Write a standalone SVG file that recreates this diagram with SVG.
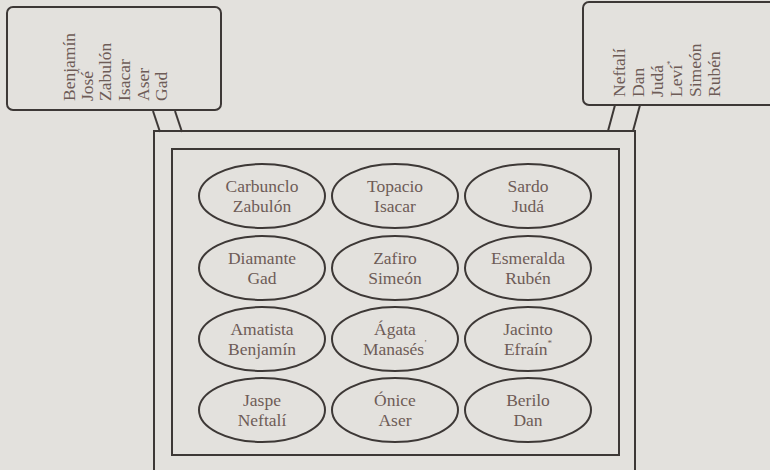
<svg xmlns="http://www.w3.org/2000/svg" width="770" height="470" viewBox="0 0 770 470">
<style>
.bg{fill:#e3e1dd}
.box{fill:none;stroke:#3d3836;stroke-width:2}
.ell{fill:none;stroke:#3d3836;stroke-width:2}
.conn{stroke:#3d3836;stroke-width:2;fill:none}
text{font-family:"Liberation Serif","DejaVu Serif",serif;font-size:17.5px;fill:#6e5c57}
.r{font-size:17.5px}
.c{text-anchor:middle}
.sup{font-size:9px}
</style>
<rect class="bg" x="0" y="0" width="770" height="470"/>
<g id="conectores">
<line class="conn" x1="153" y1="111" x2="160" y2="132"/>
<line class="conn" x1="175" y1="111" x2="182" y2="132"/>
<line class="conn" x1="615" y1="105" x2="608" y2="131"/>
<line class="conn" x1="640" y1="105" x2="633" y2="131"/>
</g>
<g id="lista-izquierda">
<rect class="box" x="7" y="7" width="214" height="103" rx="6"/>
<g transform="translate(0,101) rotate(-90)">
<text class="r" x="0" y="75">Benjamín</text>
<text class="r" x="0" y="93">José<tspan class="sup" dy="-9">’</tspan></text>
<text class="r" x="0" y="111">Zabulón</text>
<text class="r" x="0" y="130">Isacar</text>
<text class="r" x="0" y="149">Aser</text>
<text class="r" x="0" y="167">Gad</text>
</g>
</g>
<g id="lista-derecha">
<rect class="box" x="583" y="2" width="200" height="103" rx="6"/>
<g transform="translate(0,97) rotate(-90)">
<text class="r" x="0" y="625">Neftalí</text>
<text class="r" x="0" y="644">Dan</text>
<text class="r" x="0" y="663">Judá</text>
<text class="r" x="0" y="682">Leví<tspan class="sup" dy="-9">*</tspan></text>
<text class="r" x="0" y="701">Simeón</text>
<text class="r" x="0" y="720">Rubén</text>
</g>
</g>
<g id="pectoral">
<rect class="box" x="154" y="131" width="481" height="360"/>
<rect class="box" x="172" y="149" width="447" height="306"/>
</g>
<g id="carbunclo"><ellipse class="ell" cx="262" cy="196" rx="63" ry="32"/><text class="c" x="262" y="192">Carbunclo</text><text class="c" x="262" y="212">Zabulón</text></g>
<g id="topacio"><ellipse class="ell" cx="395" cy="196" rx="63" ry="32"/><text class="c" x="395" y="192">Topacio</text><text class="c" x="395" y="212">Isacar</text></g>
<g id="sardo"><ellipse class="ell" cx="528" cy="196" rx="63" ry="32"/><text class="c" x="528" y="192">Sardo</text><text class="c" x="528" y="212">Judá</text></g>
<g id="diamante"><ellipse class="ell" cx="262" cy="268" rx="63" ry="32"/><text class="c" x="262" y="264">Diamante</text><text class="c" x="262" y="284">Gad</text></g>
<g id="zafiro"><ellipse class="ell" cx="395" cy="268" rx="63" ry="32"/><text class="c" x="395" y="264">Zafiro</text><text class="c" x="395" y="284">Simeón</text></g>
<g id="esmeralda"><ellipse class="ell" cx="528" cy="268" rx="63" ry="32"/><text class="c" x="528" y="264">Esmeralda</text><text class="c" x="528" y="284">Rubén</text></g>
<g id="amatista"><ellipse class="ell" cx="262" cy="339" rx="63" ry="32"/><text class="c" x="262" y="335">Amatista</text><text class="c" x="262" y="355">Benjamín</text></g>
<g id="agata"><ellipse class="ell" cx="395" cy="339" rx="63" ry="32"/><text class="c" x="395" y="335">Ágata</text><text class="c" x="395" y="355">Manasés<tspan class="sup" dy="-9">’</tspan></text></g>
<g id="jacinto"><ellipse class="ell" cx="528" cy="339" rx="63" ry="32"/><text class="c" x="528" y="335">Jacinto</text><text class="c" x="528" y="355">Efraín<tspan class="sup" dy="-9">*</tspan></text></g>
<g id="jaspe"><ellipse class="ell" cx="262" cy="410" rx="63" ry="32"/><text class="c" x="262" y="406">Jaspe</text><text class="c" x="262" y="426">Neftalí</text></g>
<g id="onice"><ellipse class="ell" cx="395" cy="410" rx="63" ry="32"/><text class="c" x="395" y="406">Ónice</text><text class="c" x="395" y="426">Aser</text></g>
<g id="berilo"><ellipse class="ell" cx="528" cy="410" rx="63" ry="32"/><text class="c" x="528" y="406">Berilo</text><text class="c" x="528" y="426">Dan</text></g>
</svg>
